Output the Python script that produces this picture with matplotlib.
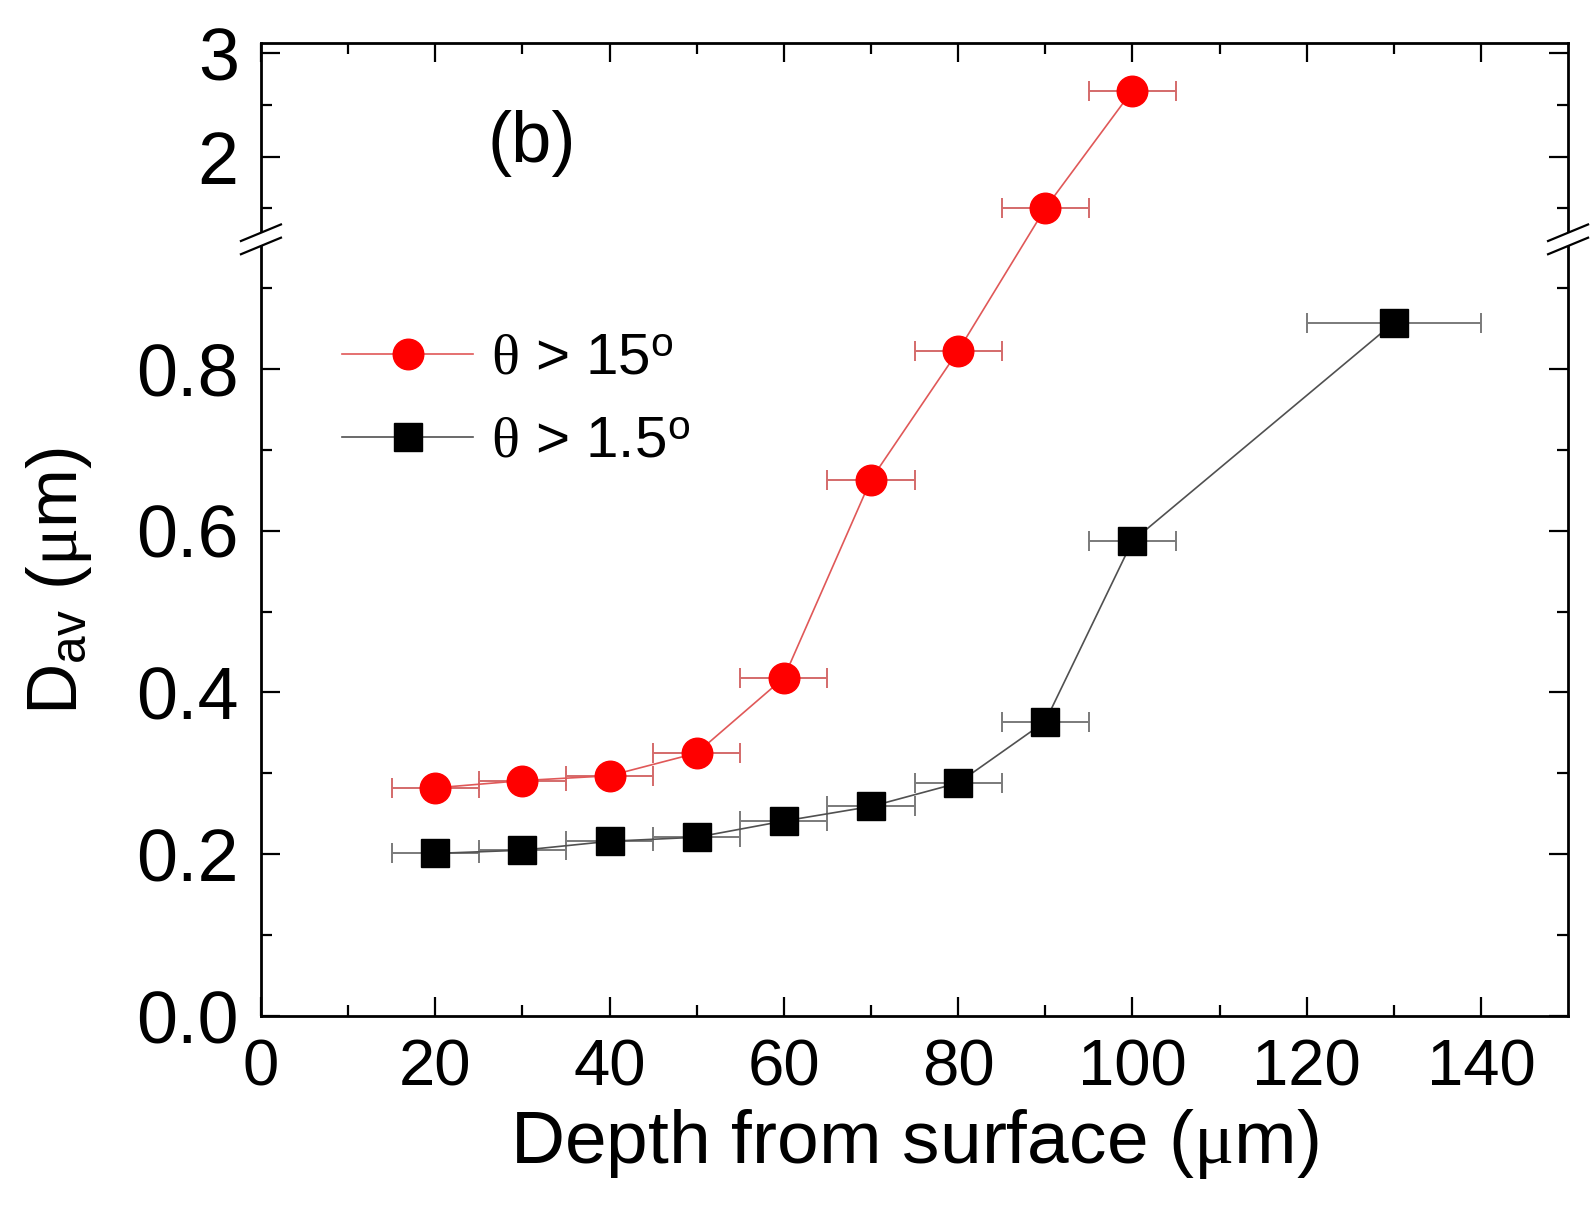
import numpy as np
import matplotlib
matplotlib.use('Agg')
import matplotlib.pyplot as plt
from matplotlib.ticker import FixedLocator, FixedFormatter
from matplotlib.patches import Polygon

plt.rcParams['font.family'] = ['Liberation Sans', 'DejaVu Sans']
plt.rcParams['mathtext.fontset'] = 'custom'
plt.rcParams['mathtext.rm'] = 'Liberation Sans'
plt.rcParams['mathtext.it'] = 'Liberation Serif'

# data
depth_15 = [20, 30, 40, 50, 60, 70, 80, 90, 100]
dav_15 = [0.282, 0.291, 0.297, 0.325, 0.418, 0.663, 0.822, 1.50, 2.64]
xerr_15 = [5, 5, 5, 5, 5, 5, 5, 5, 5]

depth_1p5 = [20, 30, 40, 50, 60, 70, 80, 90, 100, 130]
dav_1p5 = [0.201, 0.205, 0.216, 0.221, 0.241, 0.259, 0.288, 0.364, 0.587, 0.857]
xerr_1p5 = [5, 5, 5, 5, 5, 5, 5, 5, 5, 10]

yticks_major = [0.0, 0.2, 0.4, 0.6, 0.8, 2, 3]
ytick_labels = ['0.0', '0.2', '0.4', '0.6', '0.8', '2', '3']
yticks_minor = [0.1, 0.3, 0.5, 0.7, 0.9, 1.5, 2.5]

# broken y axis: 0..b0 linear, b1..top compressed
b0, b1, k = 0.96, 1.2, 0.1277


def fwd(y):
    y = np.asarray(y, dtype=float)
    return np.where(y <= b0, y, np.where(y >= b1, b0 + (y - b1) * k, b0))


def inv(t):
    t = np.asarray(t, dtype=float)
    return np.where(t <= b0, t, b1 + (t - b0) / k)


fig = plt.figure(figsize=(15.96, 12.09), dpi=100)
ax = fig.add_axes([0.1635, 0.1596, 0.8190, 0.8048])
ax.set_yscale('function', functions=(fwd, inv))

# error bars first, then lines + markers on top
ax.errorbar(depth_1p5, dav_1p5, xerr=xerr_1p5, fmt='none', ecolor='#7a7a7a',
            elinewidth=1.4, capsize=7, capthick=1.4, zorder=2)
ax.errorbar(depth_15, dav_15, xerr=xerr_15, fmt='none', ecolor='#d46a6a',
            elinewidth=1.4, capsize=7, capthick=1.4, zorder=2)
l1, = ax.plot(depth_15, dav_15, color='#e05858', lw=1.2, marker='o', ms=22,
              mfc='#ff0000', mec='#ff0000', zorder=4, label=r'$\theta$ > 15$^{\mathrm{o}}$')
l2, = ax.plot(depth_1p5, dav_1p5, color='#505050', lw=1.2, marker='s', ms=20,
              mfc='black', mec='black', zorder=3, label=r'$\theta$ > 1.5$^{\mathrm{o}}$')

ax.set_xlim(0, 150)
ax.set_ylim(0, 3.1)
ax.set_xticks(np.arange(0, 141, 20))
ax.set_xticks(np.arange(10, 150, 20), minor=True)
ax.yaxis.set_major_locator(FixedLocator(yticks_major))
ax.yaxis.set_major_formatter(FixedFormatter(ytick_labels))
ax.yaxis.set_minor_locator(FixedLocator(yticks_minor))
ax.yaxis.set_minor_formatter(FixedFormatter([''] * len(yticks_minor)))

ax.tick_params(which='both', direction='in', top=True, right=True, width=1.6)
ax.tick_params(which='major', length=14)
ax.tick_params(which='minor', length=8)
ax.tick_params(axis='x', pad=16, labelsize=47)
ax.tick_params(axis='y', pad=16, labelsize=53)
for s in ax.spines.values():
    s.set_linewidth(2)

ax.set_xlabel(r'Depth from surface ($\mu$m)', fontsize=54)
ax.set_ylabel(r'D$_{\mathrm{av}}$ ($\mu$m)', fontsize=51)
ax.xaxis.set_label_coords(0.5, -0.093)
ax.yaxis.set_label_coords(-0.128, 0.447)

ax.text(0.207, 0.897, '(b)', transform=ax.transAxes, fontsize=52,
        ha='center', va='center')

ax.legend(handles=[l1, l2], loc='upper left', bbox_to_anchor=(0.062, 0.703),
          frameon=False, fontsize=42, handlelength=2.25, handletextpad=0.3,
          labelspacing=0.5, borderpad=0, borderaxespad=0, numpoints=1)

# break marks on both spines
yb = b0 / (b0 + (3.1 - b1) * k)
dx, dy, sep = 0.0153, 0.0085, 0.0068
for x0 in (0, 1):
    poly = Polygon([[x0 - dx, yb - sep - dy], [x0 + dx, yb - sep + dy],
                    [x0 + dx, yb + sep + dy], [x0 - dx, yb + sep - dy]],
                   closed=True, transform=ax.transAxes, facecolor='white',
                   edgecolor='none', clip_on=False, zorder=5)
    ax.add_patch(poly)
    for off in (-sep, sep):
        ax.plot([x0 - dx, x0 + dx], [yb + off - dy, yb + off + dy],
                transform=ax.transAxes, color='black', lw=1.6,
                clip_on=False, zorder=6)

fig.savefig('out.png', dpi=100)
